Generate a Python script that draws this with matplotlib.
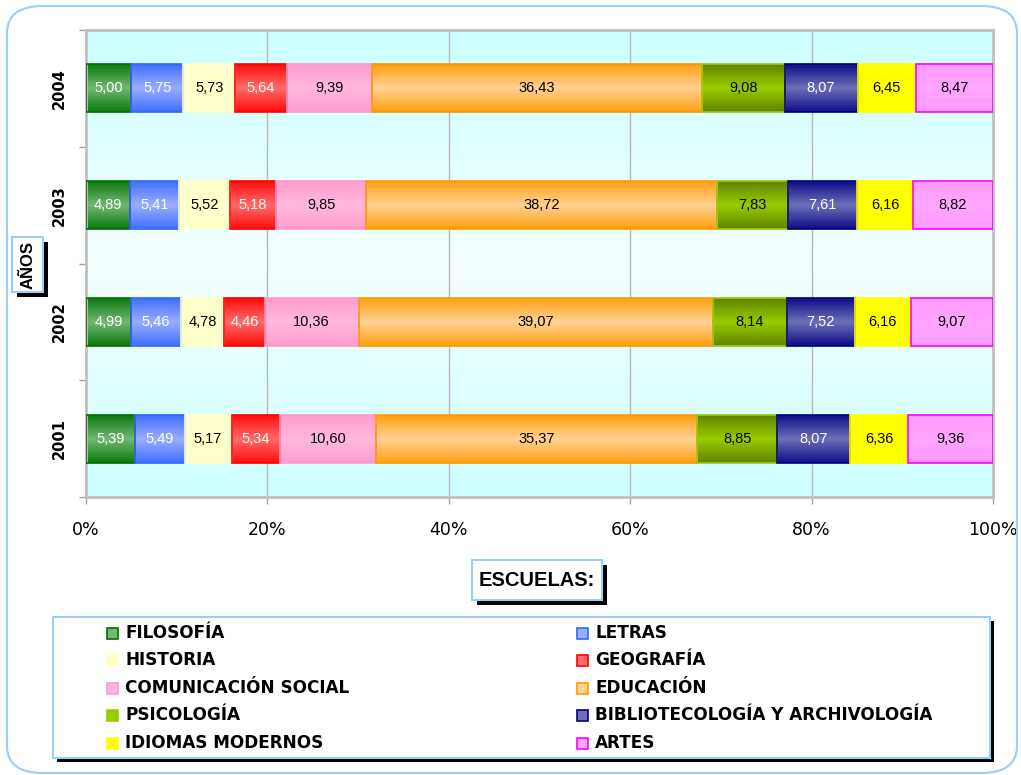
import matplotlib.pyplot as plt
import numpy as np
from matplotlib.colors import LinearSegmentedColormap
from matplotlib.patches import Rectangle, FancyBboxPatch

# data
years = ['2001', '2002', '2003', '2004']
schools = ['FILOSOFÍA', 'LETRAS', 'HISTORIA', 'GEOGRAFÍA', 'COMUNICACIÓN SOCIAL',
           'EDUCACIÓN', 'PSICOLOGÍA', 'BIBLIOTECOLOGÍA Y ARCHIVOLOGÍA',
           'IDIOMAS MODERNOS', 'ARTES']
v2001 = [5.39, 5.49, 5.17, 5.34, 10.60, 35.37, 8.85, 8.07, 6.36, 9.36]
v2002 = [4.99, 5.46, 4.78, 4.46, 10.36, 39.07, 8.14, 7.52, 6.16, 9.07]
v2003 = [4.89, 5.41, 5.52, 5.18, 9.85, 38.72, 7.83, 7.61, 6.16, 8.82]
v2004 = [5.00, 5.75, 5.73, 5.64, 9.39, 36.43, 9.08, 8.07, 6.45, 8.47]
values = np.array([v2001, v2002, v2003, v2004])

# outer colour, centre colour, border colour, label colour
edge_cols = ['#007000', '#3366ff', '#ffffcc', '#ff0000', '#ff99cc',
             '#ff9900', '#5a7800', '#000080', '#ffff00', '#ff99ff']
mid_cols = ['#72b872', '#9aaeff', '#ffffcc', '#ff6a6a', '#ffb8dd',
            '#ffd293', '#99cc00', '#6e6eb8', '#ffff00', '#ffa6ff']
border_cols = ['#007000', '#3366ff', '#ffffcc', '#ff0000', '#ff99cc',
               '#ff9900', '#99cc00', '#000080', '#ffff00', '#ff00ff']
txt_cols = ['white', 'white', 'black', 'white', 'black',
            'black', 'black', 'white', 'black', 'black']

W, H = 1021, 775
fig = plt.figure(figsize=(W / 100, H / 100), dpi=100)


def fx(x):
    return x / W


def fy(y):
    return 1 - y / H


# outer rounded frame
fig.add_artist(FancyBboxPatch((fx(7), fy(773)), fx(1010), 767 / H,
                              boxstyle='round,pad=0,rounding_size=0.035',
                              transform=fig.transFigure, fc='none', ec='#99ccff', lw=1.5))

ax = fig.add_axes([fx(86), fy(497), fx(993) - fx(86), (497 - 30) / H])

# plot area background gradient
bg = LinearSegmentedColormap.from_list('bg', ['#ccffff', '#f4ffff', '#ccffff'])
ax.imshow(np.linspace(0, 1, 256).reshape(-1, 1), cmap=bg, aspect='auto',
          extent=[0, 1, 0, 1], transform=ax.transAxes, zorder=0)

pct = values / values.sum(axis=1, keepdims=True) * 100
left = np.zeros(len(years))
bar_h = 0.41
grad = np.abs(np.linspace(-1, 1, 64)).reshape(-1, 1)
for j, name in enumerate(schools):
    bars = ax.barh(np.arange(len(years)), pct[:, j], left=left, height=bar_h,
                   color='none', edgecolor=border_cols[j], lw=1.2, zorder=3)
    cmap = LinearSegmentedColormap.from_list(name, [mid_cols[j], edge_cols[j]])
    for i, b in enumerate(bars):
        x0, y0 = b.get_x(), b.get_y()
        ax.imshow(grad, cmap=cmap, aspect='auto', vmin=0, vmax=1.15,
                  extent=[x0, x0 + b.get_width(), y0, y0 + bar_h], zorder=2)
        ax.text(x0 + b.get_width() / 2, i, f'{values[i, j]:.2f}'.replace('.', ','),
                ha='center', va='center', color=txt_cols[j], fontsize=10.5,
                family='Liberation Sans', zorder=4)
    left += pct[:, j]

ax.set_xlim(0, 100)
ax.set_ylim(-0.5, len(years) - 0.5)
ax.set_xticks(np.arange(0, 101, 20))
ax.set_xticklabels([f'{t}%' for t in range(0, 101, 20)], fontsize=12.5)
ax.set_yticks(np.arange(-0.5, len(years), 1))
ax.set_yticklabels([])
ax.set_yticks(np.arange(len(years)), minor=True)
ax.set_yticklabels(years, minor=True, rotation=90, va='center',
                   fontsize=10.5, fontweight='bold')
ax.tick_params(axis='y', which='minor', length=0, pad=14)
ax.tick_params(axis='both', which='major', length=5, color='#a0a0a0', width=1)
ax.tick_params(axis='x', pad=12)
ax.xaxis.grid(True, color='#b8b8b8', lw=1, zorder=1)
ax.set_axisbelow(True)
for s in ax.spines.values():
    s.set_color('#c0c0c0')
    s.set_linewidth(2)


def shadow_box(x0, y0, x1, y1, off=4, ec='#99ccff'):
    fig.add_artist(Rectangle((fx(x0 + off), fy(y1 + off)), (x1 - x0) / W, (y1 - y0) / H,
                             transform=fig.transFigure, fc='black', ec='none'))
    fig.add_artist(Rectangle((fx(x0), fy(y1)), (x1 - x0) / W, (y1 - y0) / H,
                             transform=fig.transFigure, fc='white', ec=ec, lw=1.5))


# axis titles with shadowed boxes
shadow_box(12, 237, 43, 292, off=5)
fig.text(fx(28), fy(265), 'AÑOS', rotation=90, ha='center', va='center',
         fontsize=12, fontweight='bold', family='Liberation Sans')
shadow_box(472, 560, 602, 600, off=5)
fig.text(fx(537), fy(580), 'ESCUELAS:', ha='center', va='center',
         fontsize=14.5, fontweight='bold', family='Liberation Sans')

# legend
shadow_box(53, 617, 990, 758, off=4)
row_y = [633, 660, 688, 715, 743]
col_x = [107, 577]
for k, name in enumerate(schools):
    r, c = k // 2, k % 2
    x, y = col_x[c], row_y[r]
    fig.add_artist(Rectangle((fx(x), fy(y + 6)), 11 / W, 11 / H, transform=fig.transFigure,
                             fc=mid_cols[k], ec=border_cols[k] if k != 2 else '#ffffcc', lw=1.2))
    fig.text(fx(x + 18), fy(y), name, ha='left', va='center',
             fontsize=12.2, fontweight='bold')

fig.savefig('out.png', dpi=100)
